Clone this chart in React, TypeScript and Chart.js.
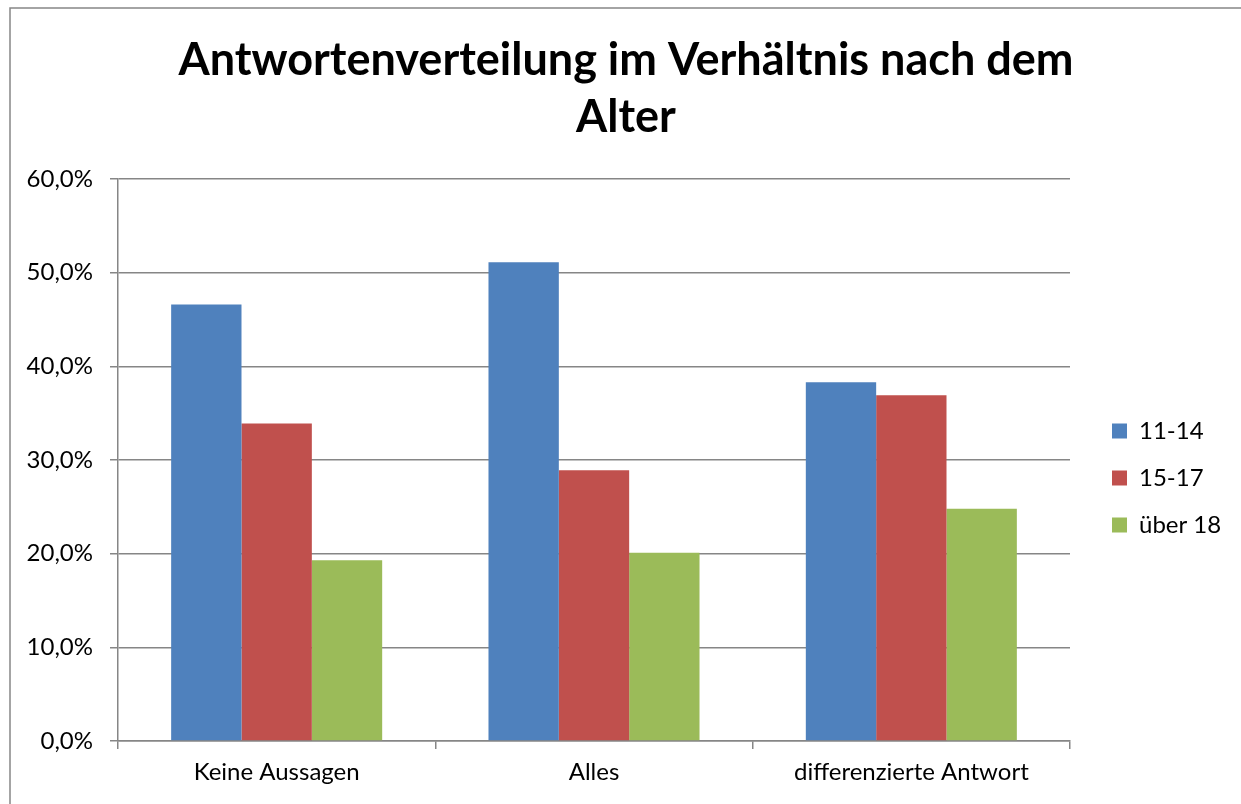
import React, { useEffect, useRef } from "react";
import { Chart, registerables } from "chart.js";

Chart.register(...registerables);

const categories = ["Keine Aussagen", "Alles", "differenzierte Antwort"];
const seriesNames = ["11-14", "15-17", "über 18"];
const values1114 = [46.6, 51.1, 38.3];
const values1517 = [33.9, 28.9, 36.9];
const valuesUeber18 = [19.3, 20.1, 24.8];
const seriesColors = ["#4F81BD", "#C0504D", "#9BBB59"];
const titleLines = ["Antwortenverteilung im Verhältnis nach dem", "Alter"];
const yTicks = [0, 10, 20, 30, 40, 50, 60];

const FONT = "Lato, 'Open Sans', sans-serif";
const GRAY = "#868686";

const framePlugin = {
  id: "frame",
  beforeInit(chart: any) {
    const lg = chart.legend;
    if (lg && !lg.__patched) {
      const orig = lg.fit.bind(lg);
      lg.fit = function () {
        orig();
        this.width = 171;
      };
      lg.__patched = true;
    }
  },
  afterLayout(chart: any) {
    const lg = chart.legend;
    if (lg) {
      const dx = 19;
      const dy = 76;
      lg.left += dx;
      lg.right += dx;
      lg.top += dy;
      lg.bottom += dy;
    }
  },
  beforeDraw(chart: any) {
    const ctx = chart.ctx;
    ctx.save();
    ctx.fillStyle = "#ffffff";
    ctx.fillRect(0, 0, chart.width, chart.height);
    ctx.strokeStyle = GRAY;
    ctx.lineWidth = 1.5;
    ctx.beginPath();
    ctx.moveTo(10, chart.height);
    ctx.lineTo(10, 8);
    ctx.lineTo(chart.width, 8);
    ctx.stroke();
    ctx.restore();
  },
};

export default function App() {
  const ref = useRef<HTMLCanvasElement | null>(null);
  useEffect(() => {
    if (!ref.current) return;
    const chart = new Chart(ref.current, {
      type: "bar",
      data: {
        labels: categories,
        datasets: [
          { label: seriesNames[0], data: values1114, backgroundColor: seriesColors[0] },
          { label: seriesNames[1], data: values1517, backgroundColor: seriesColors[1] },
          { label: seriesNames[2], data: valuesUeber18, backgroundColor: seriesColors[2] },
        ],
      },
      options: {
        responsive: false,
        animation: false,
        devicePixelRatio: 1,
        layout: { padding: { left: 11, right: 0, top: 0, bottom: 0 } },
        datasets: { bar: { barPercentage: 1, categoryPercentage: 0.665 } },
        plugins: {
          title: {
            display: true,
            text: titleLines,
            color: "#000",
            font: { family: FONT, size: 45, weight: "bold", lineHeight: 57 / 45 },
            padding: { top: 32, bottom: 33 },
          },
          legend: {
            position: "right",
            labels: {
              color: "#000",
              font: { family: FONT, size: 24 },
              boxWidth: 15,
              boxHeight: 15,
              padding: 23,
            },
          },
          tooltip: { enabled: false },
        },
        scales: {
          x: {
            afterFit(s: any) {
              s.height = 63;
            },
            grid: {
              offset: true,
              drawOnChartArea: false,
              color: GRAY,
              lineWidth: 1.5,
              tickLength: 8,
            },
            border: { display: true, color: GRAY, width: 1.5 },
            ticks: { color: "#000", font: { family: FONT, size: 24 }, padding: 9 },
          },
          y: {
            min: 0,
            max: 60,
            afterFit(s: any) {
              s.width = 107;
            },
            afterBuildTicks(s: any) {
              s.ticks = yTicks.map((v) => ({ value: v }));
            },
            grid: { color: GRAY, lineWidth: 1.5, tickLength: 8 },
            border: { display: true, color: GRAY, width: 1.5 },
            ticks: {
              color: "#000",
              font: { family: FONT, size: 24 },
              padding: 17,
              callback: (v: any) => Number(v).toFixed(1).replace(".", ",") + "%",
            },
          },
        },
      },
      plugins: [framePlugin],
    });
    return () => chart.destroy();
  }, []);
  return (
    <div style={{ position: "absolute", left: 0, top: 0, width: 1241, height: 804, background: "#fff" }}>
      <canvas ref={ref} width={1241} height={804} style={{ width: 1241, height: 804, display: "block" }} />
    </div>
  );
}
